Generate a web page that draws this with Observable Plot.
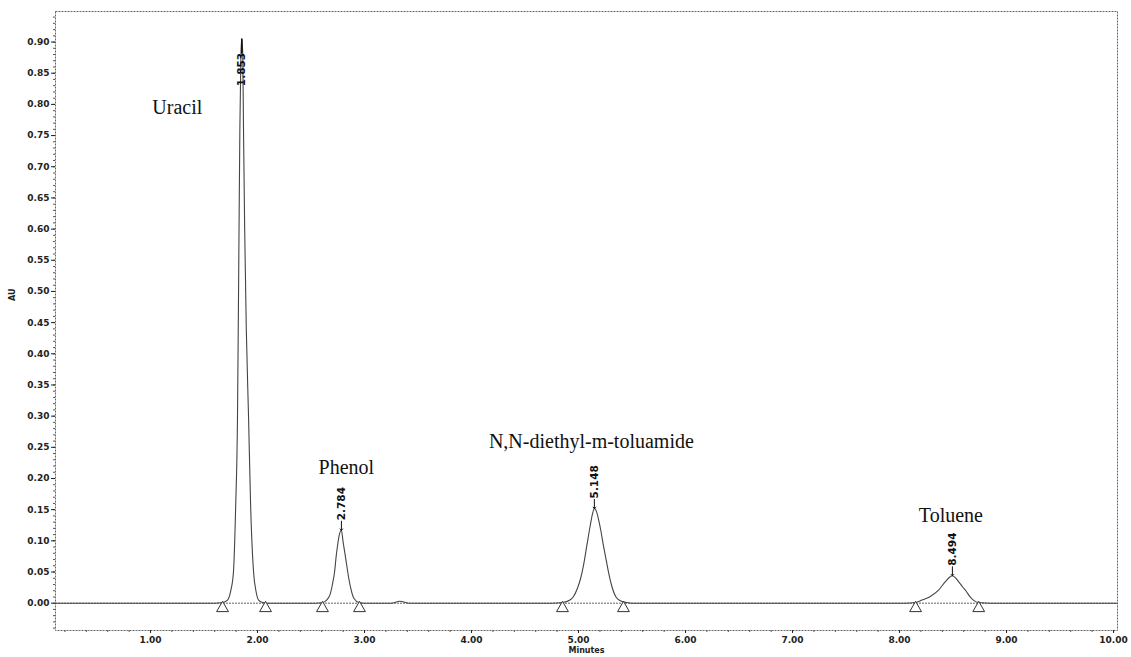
<!DOCTYPE html>
<html><head><meta charset="utf-8">
<script src="https://cdn.jsdelivr.net/npm/d3@7"></script>
<script src="https://cdn.jsdelivr.net/npm/@observablehq/plot@0.6"></script>
<style>
body{margin:0;background:#fff}
#chart svg{display:block}
.ax text{font-weight:bold}
</style>
</head><body><div id="chart"></div>
<script>
// Chromatogram trace (minutes, AU)
const traceMinutes = [0.112,1.60,
  1.67,1.72,1.75,1.775,1.795,1.813,1.825,1.835,1.845,1.853,1.862,1.869,1.88,1.895,1.916,1.935,1.963,1.985,2.01,2.05,2.10,
  2.55,2.61,2.64,2.68,2.70,2.72,2.735,2.75,2.765,2.784,2.80,2.815,2.83,2.845,2.87,2.90,2.95,3.00,
  3.25,3.33,3.42,
  4.75,4.85,4.92,4.95,4.99,5.02,5.05,5.08,5.11,5.13,5.148,5.17,5.19,5.21,5.23,5.26,5.28,5.31,5.35,5.40,5.45,5.50,
  8.05,8.15,8.21,8.28,8.36,8.43,8.47,8.494,8.52,8.55,8.59,8.62,8.66,8.69,8.74,8.85,
  10.037];
const traceAU = [0,0,
  0.001,0.005,0.02,0.05,0.15,0.30,0.55,0.76,0.88,0.905,0.88,0.76,0.60,0.44,0.30,0.16,0.05,0.02,0.005,0.001,0,
  0,0.001,0.004,0.015,0.03,0.05,0.075,0.095,0.11,0.117,0.098,0.082,0.065,0.048,0.025,0.008,0.001,0,
  0,0.003,0,
  0,0.001,0.005,0.01,0.024,0.04,0.064,0.095,0.125,0.143,0.152,0.146,0.132,0.115,0.095,0.068,0.05,0.028,0.01,0.003,0.001,0,
  0,0.001,0.005,0.01,0.02,0.035,0.042,0.044,0.041,0.035,0.026,0.02,0.01,0.005,0.001,0,
  0];

// Peaks
const peakNames = ["Uracil", "Phenol", "N,N-diethyl-m-toluamide", "Toluene"];
const peakRT = [1.853, 2.784, 5.148, 8.494];
const peakLabels = ["1.853", "2.784", "5.148", "8.494"];
const peakAU = [0.905, 0.117, 0.152, 0.044];
const nameMinutes = [1.25, 2.83, 5.12, 8.48];
const nameAU = [0.795, 0.218, 0.259, 0.141];
const baselineStart = [1.673, 2.607, 4.85, 8.15];
const baselineEnd = [2.075, 2.953, 5.42, 8.74];

// Axes
const xTickValues = [1, 2, 3, 4, 5, 6, 7, 8, 9, 10];
const yTickValues = [0, 0.05, 0.10, 0.15, 0.20, 0.25, 0.30, 0.35, 0.40, 0.45, 0.50, 0.55, 0.60, 0.65, 0.70, 0.75, 0.80, 0.85, 0.90];
const xDomain = [0.112, 10.037];
const yDomain = [-0.0438, 0.949];

const trace = traceMinutes.map((t, i) => ({t, au: traceAU[i]}));
const peaks = peakNames.map((name, i) => ({name, t: peakRT[i], au: peakAU[i], label: peakLabels[i], nt: nameMinutes[i], nau: nameAU[i]}));
const markers = peakRT.flatMap((_, i) => [{t: baselineStart[i]}, {t: baselineEnd[i]}]);
const bigPeaks = peaks.filter(d => d.au > 0.5);
const smallPeaks = peaks.filter(d => d.au <= 0.5);

const xMinor = d3.range(0.2, 10.01, 0.2);
const yMinor = d3.range(-0.04, 0.945, 0.01);

const lineShape = {draw(context, l) { context.moveTo(0, 0); context.lineTo(0, -l); }};

const chart = Plot.plot({
  width: 1131,
  height: 657,
  marginLeft: 55,
  marginRight: 14,
  marginTop: 11,
  marginBottom: 27,
  style: {fontFamily: "DejaVu Sans, sans-serif", color: "#222", background: "#fff"},
  x: {domain: xDomain},
  y: {domain: yDomain},
  marks: [
    Plot.frame({stroke: "#666", strokeDasharray: "2,1"}),
    Plot.ruleY([0], {stroke: "#666", strokeDasharray: "2,1"}),
    Plot.axisY({ticks: yMinor, tickSize: 2, text: null, label: null, stroke: "#555"}),
    Plot.axisX({ticks: xMinor, tickSize: 2, text: null, label: null, stroke: "#555"}),
    Plot.axisY({ticks: yTickValues, tickFormat: d3.format(".2f"), tickSize: 4, tickPadding: 2, fontSize: 9, fontWeight: "bold", label: null, className: "ax"}),
    Plot.axisX({ticks: xTickValues, tickFormat: d3.format(".2f"), tickSize: 3, tickPadding: 3, fontSize: 9, fontWeight: "bold", label: null, className: "ax"}),
    Plot.line(trace, {x: "t", y: "au", stroke: "#444", strokeWidth: 1.1, curve: "monotone-x"}),
    Plot.dot(markers, {x: "t", y: () => 0, symbol: "triangle", r: 4.4, fill: "white", stroke: "#333", strokeWidth: 1, dy: 5}),
    // retention time labels
    Plot.vector(smallPeaks, {x: "t", y: "au", length: 9, rotate: 180, anchor: "end", stroke: "#111", strokeWidth: 1, r: 2.5}),
    Plot.text(smallPeaks, {x: "t", y: "au", text: "label", rotate: -90, textAnchor: "start", dy: -10, fontSize: 10.5, fontWeight: "bold", fill: "#111"}),
    Plot.vector(bigPeaks, {x: "t", y: "au", length: 14, rotate: 180, anchor: "start", shape: lineShape, stroke: "#111", strokeWidth: 1.6}),
    Plot.text(bigPeaks, {x: "t", y: "au", text: "label", rotate: -90, textAnchor: "end", dy: 14, fontSize: 10.5, fontWeight: "bold", fill: "#111"}),
    // compound names
    Plot.text(peaks, {x: "nt", y: "nau", text: "name", fontFamily: "Liberation Serif, Times New Roman, serif", fontSize: 20, fill: "#111"}),
    // axis titles
    Plot.text(["AU"], {frameAnchor: "left", dx: -43, dy: -20, rotate: -90, fontSize: 8, fontWeight: "bold", fill: "#222"}),
    Plot.text(["Minutes"], {frameAnchor: "bottom", dy: 22, fontSize: 8, fontWeight: "bold", fill: "#222"})
  ]
});
document.getElementById("chart").append(chart);
</script>
</body></html>
